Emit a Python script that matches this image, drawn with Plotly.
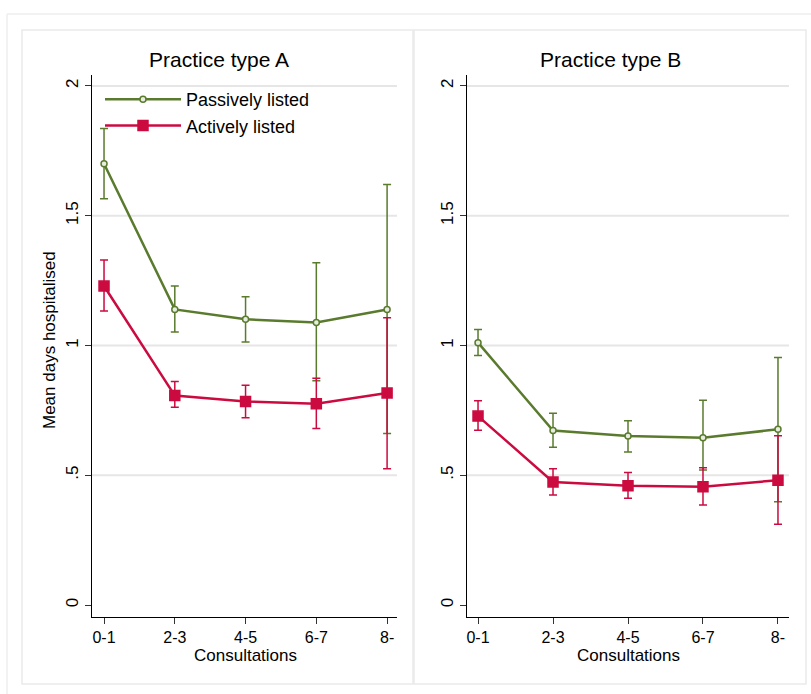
import plotly.graph_objects as go

W, H = 811, 694

categories = ["0-1", "2-3", "4-5", "6-7", "8-"]

# Practice type A
a_passive = [1.70, 1.139, 1.101, 1.089, 1.139]
a_passive_hi = [1.836, 1.229, 1.188, 1.319, 1.620]
a_passive_lo = [1.565, 1.052, 1.013, 0.864, 0.661]
a_active = [1.229, 0.807, 0.784, 0.776, 0.817]
a_active_hi = [1.329, 0.861, 0.847, 0.874, 1.107]
a_active_lo = [1.133, 0.762, 0.722, 0.680, 0.525]

# Practice type B
b_passive = [1.011, 0.672, 0.651, 0.645, 0.677]
b_passive_hi = [1.062, 0.739, 0.710, 0.789, 0.954]
b_passive_lo = [0.961, 0.608, 0.590, 0.520, 0.398]
b_active = [0.728, 0.474, 0.460, 0.456, 0.481]
b_active_hi = [0.787, 0.525, 0.511, 0.529, 0.652]
b_active_lo = [0.673, 0.424, 0.411, 0.385, 0.311]

y_tick_vals = [0, 0.5, 1, 1.5, 2]
y_tick_text = ["0", ".5", "1", "1.5", "2"]
grid_vals = [0.5, 1, 1.5, 2]

GREEN = "#5a7b2e"
RED = "#cb0b40"
FONT = "Liberation Sans, Arial, sans-serif"


def px(x):
    return x / W


def py(y):
    return 1 - y / H


fig = go.Figure()


def add_series(xa, ya, vals, hi, lo, name, color, symbol, size, mfill, showlegend):
    fig.add_trace(go.Scatter(
        x=categories, y=vals, name=name, mode="lines+markers",
        xaxis=xa, yaxis=ya, showlegend=showlegend, legendgroup=name,
        line=dict(color=color, width=2.5),
        marker=dict(symbol=symbol, size=size, color=mfill,
                    line=dict(color=color, width=1.5)),
        error_y=dict(type="data", symmetric=False,
                     array=[h - v for h, v in zip(hi, vals)],
                     arrayminus=[v - l for v, l in zip(vals, lo)],
                     color=color, thickness=1.5, width=4),
    ))


add_series("x", "y", a_passive, a_passive_hi, a_passive_lo, "Passively listed", GREEN, "circle", 6, "#e8eedf", True)
add_series("x", "y", a_active, a_active_hi, a_active_lo, "Actively listed", RED, "square", 10, RED, True)
add_series("x2", "y2", b_passive, b_passive_hi, b_passive_lo, "Passively listed", GREEN, "circle", 6, "#e8eedf", False)
add_series("x2", "y2", b_active, b_active_hi, b_active_lo, "Actively listed", RED, "square", 10, RED, False)

xcommon = dict(type="category", categoryorder="array", categoryarray=categories,
               showline=True, linecolor="black", linewidth=1, showgrid=False,
               zeroline=False, ticks="outside", ticklen=6, tickcolor="#333",
               tickfont=dict(family=FONT, size=16, color="black"))
ycommon = dict(range=[-0.046, 2.042], tickvals=y_tick_vals, ticktext=y_tick_text,
               tickangle=-90, showline=True, linecolor="black", linewidth=1,
               showgrid=False, zeroline=False, ticks="outside", ticklen=6,
               tickcolor="#333", tickfont=dict(family=FONT, size=17, color="black"))

ydom = [py(617), py(75)]
fig.update_layout(
    xaxis=dict(xcommon, domain=[px(92), px(397)], range=[-0.17, 4.14], anchor="y"),
    yaxis=dict(ycommon, domain=ydom, anchor="x"),
    xaxis2=dict(xcommon, domain=[px(467), px(789)], range=[-0.147, 4.147], anchor="y2"),
    yaxis2=dict(ycommon, domain=ydom, anchor="x2"),
)

shapes = []
# outer frame and panel boxes
shapes.append(dict(type="line", xref="paper", yref="paper", x0=px(7), x1=1, y0=py(14), y1=py(14),
                   line=dict(color="#eeeeee", width=1.5), layer="below"))
shapes.append(dict(type="line", xref="paper", yref="paper", x0=px(7), x1=px(7), y0=py(14), y1=0,
                   line=dict(color="#eeeeee", width=1.5), layer="below"))
for x0, x1 in [(22, 413), (414, 806)]:
    shapes.append(dict(type="rect", xref="paper", yref="paper", x0=px(x0), x1=px(x1), y0=py(684), y1=py(30),
                       line=dict(color="#eaeaea", width=1.5), fillcolor="white", layer="below"))
for xr, yr in [("x", "y"), ("x2", "y2")]:
    for g in grid_vals:
        shapes.append(dict(type="line", xref=f"{xr} domain", yref=yr, x0=0, x1=1, y0=g, y1=g,
                           line=dict(color="#e6e6e6", width=2), layer="below"))


def ann(text, x, y, size, angle=0):
    return dict(text=text, x=px(x), y=py(y), xref="paper", yref="paper", showarrow=False,
                xanchor="center", yanchor="middle", textangle=angle,
                font=dict(family=FONT, size=size, color="black"))


annotations = [
    ann("Practice type A", 219, 60, 21),
    ann("Practice type B", 610, 60, 21),
    ann("Consultations", 245, 655, 17),
    ann("Consultations", 628, 655, 17),
    ann("Mean days hospitalised", 50, 340, 17, -90),
]

fig.update_layout(
    width=W, height=H, margin=dict(l=0, r=0, t=0, b=0),
    paper_bgcolor="white", plot_bgcolor="rgba(0,0,0,0)",
    shapes=shapes, annotations=annotations,
    font=dict(family=FONT, size=16, color="black"),
    legend=dict(x=px(100), y=py(81), xanchor="left", yanchor="top",
                bgcolor="rgba(0,0,0,0)", font=dict(family=FONT, size=18, color="black"),
                itemwidth=76, tracegroupgap=0),
)

fig.write_html("out.html")
